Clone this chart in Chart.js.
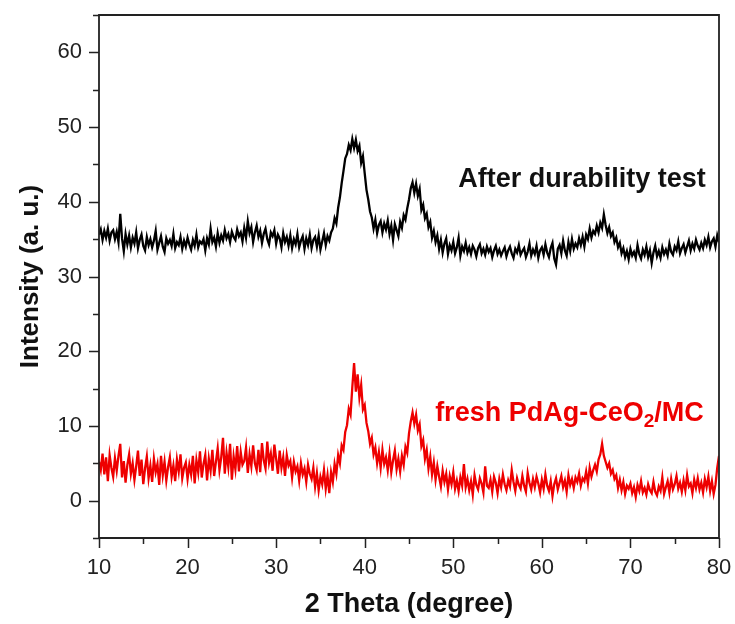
<!DOCTYPE html>
<html>
<head>
<meta charset="utf-8">
<script src="https://cdn.jsdelivr.net/npm/chart.js@4.4.1/dist/chart.umd.min.js"></script>
<style>
  html, body { margin: 0; padding: 0; background: #fff; }
  #wrap { width: 735px; height: 624px; }
</style>
</head>
<body>
<div id="wrap"><canvas id="xrd" width="735" height="624"></canvas></div>
<script>
// scan grid: 10 to 80 degree, one reading every 0.2 degree
const angleStart = 10;
const angleStep = 0.2;

// after durability test (black)
const afterTest = [
  35.6, 36.3, 34.9, 36.1, 35.2, 36.4, 34.8, 35.9, 36.2, 35.0,
  36.0, 34.6, 38.4, 35.1, 33.4, 35.7, 34.3, 35.5, 33.9, 35.2,
  34.4, 35.9, 33.8, 34.9, 35.6, 34.1, 33.5, 35.3, 34.2, 35.0,
  33.9, 34.8, 36.1, 33.6, 34.5, 35.4, 34.0, 33.3, 35.1, 34.4,
  34.9, 34.1, 35.7, 33.8, 34.6, 34.2, 35.3, 33.7, 34.8, 34.0,
  35.2, 34.3, 33.6, 34.9, 34.1, 35.6, 33.9, 34.7, 34.4, 35.0,
  33.5, 35.1, 34.3, 36.4, 34.6, 35.2, 34.0, 35.8, 34.5, 35.5,
  34.8, 36.2, 35.1, 35.7, 34.6, 36.0, 35.3, 34.9, 36.3, 35.4,
  35.9, 34.7, 36.5, 35.2, 37.4, 35.8, 36.6, 34.6, 35.9, 36.8,
  35.3, 36.1, 34.5, 35.7, 36.4, 35.0, 34.3, 35.9, 35.4, 36.2,
  34.4, 35.6, 35.1, 33.9, 35.8, 34.6, 35.3, 34.1, 35.5, 33.8,
  35.0, 34.3, 35.7, 33.9, 34.8, 35.4, 33.7, 35.1, 34.2, 35.6,
  33.8, 34.9, 35.3, 34.0, 35.5, 33.6, 34.7, 35.8, 34.2, 35.4,
  34.8, 35.9, 36.4, 37.8, 37.1, 39.2, 40.6, 42.5, 44.1, 45.8,
  46.4, 47.6, 46.9, 48.4, 47.2, 48.3, 46.8, 47.5, 45.2, 46.1,
  43.8, 41.6, 40.3, 38.7, 37.9, 36.4, 37.6, 35.8, 36.9, 37.4,
  35.9, 37.1, 36.3, 37.5, 35.7, 36.8, 34.9, 37.0, 36.2, 35.4,
  37.3, 36.5, 38.2, 37.6, 39.1, 40.3, 41.8, 42.6, 41.2, 42.4,
  40.8, 41.7, 38.9, 39.6, 37.8, 38.4, 36.6, 37.3, 35.2, 36.1,
  34.6, 35.5, 33.7, 34.9, 33.2, 34.4, 35.1, 33.0, 34.2, 33.5,
  34.6, 33.1, 33.9, 35.2, 32.8, 34.0, 33.4, 34.5, 33.2, 33.9,
  33.0, 34.1, 33.6, 32.7, 33.8, 34.3, 33.1, 33.7, 32.9, 34.0,
  33.3, 33.8, 32.6, 33.5, 34.1, 33.0, 33.6, 32.8, 33.4, 33.9,
  32.7, 33.5, 34.0, 33.1, 32.5, 33.7, 33.2, 34.2, 32.9, 33.4,
  33.8, 32.6, 33.3, 34.4, 32.8, 33.6, 33.0, 34.1, 32.5, 33.5,
  33.9, 32.9, 34.3, 33.2, 32.6, 33.8, 34.5, 32.4, 31.6, 33.7,
  34.2, 33.1, 34.8, 33.5, 32.8, 34.6, 33.4, 35.0, 33.7, 34.4,
  33.9, 35.1, 34.2, 35.3, 34.0, 35.6, 35.0, 36.4, 35.2, 36.1,
  35.7, 36.8, 35.9, 37.2, 36.5, 38.3, 36.9, 35.8, 36.6, 35.4,
  35.9, 34.6, 35.2, 33.9, 34.5, 33.1, 33.8, 32.6, 33.4, 32.3,
  33.7, 32.8, 33.3, 32.5, 34.2, 33.0, 32.4, 33.6, 32.9, 34.0,
  32.6, 33.5, 31.8, 33.2, 34.1, 32.7, 33.4, 32.5, 33.9, 33.0,
  33.6, 32.8, 34.4, 33.3, 32.9, 34.0, 33.5, 34.7, 33.1, 33.8,
  34.3, 33.2, 34.0, 34.8, 33.5, 34.4, 33.7, 34.9, 34.1, 33.6,
  34.5, 33.8, 34.9, 34.2, 35.3, 33.9, 34.7, 35.1, 34.0, 35.5,
  34.6
];

// fresh PdAg-CeO2/MC (red)
const freshSample = [
  5.2, 4.1, 6.3, 3.5, 5.8, 2.6, 6.1, 4.4, 3.2, 5.7,
  4.0, 6.0, 7.6, 3.1, 5.3, 2.4, 4.8, 6.2, 3.6, 5.0,
  2.8, 4.6, 6.7, 3.3, 5.5, 2.2, 4.3, 5.9, 3.0, 4.7,
  2.5, 5.6, 3.8, 4.9, 2.1, 6.0, 3.4, 5.2, 2.7, 4.5,
  5.8, 3.2, 4.7, 2.6, 5.5, 3.9, 6.2, 3.0, 4.4, 5.1,
  2.9, 4.8, 3.5, 6.0, 2.3, 5.4, 3.8, 6.6, 3.1, 4.9,
  6.1, 2.7, 5.6, 4.0, 6.8, 3.3, 5.2, 7.0, 4.1, 5.8,
  8.4, 3.6, 6.4, 4.5, 7.6, 2.8, 5.9, 4.2, 7.3, 3.9,
  6.5, 4.8, 5.3, 7.1, 3.7, 6.2, 4.6, 7.4, 5.0, 4.1,
  6.8, 3.8, 7.7, 5.4, 4.3, 7.9, 5.1, 6.3, 4.0, 7.5,
  5.6, 3.6, 6.7, 4.4, 5.8, 3.3, 6.1, 4.7, 5.3, 3.1,
  5.2, 3.9, 4.6, 2.7, 5.0, 3.5, 4.3, 2.5, 4.8, 3.6,
  2.9, 4.4, 1.9, 3.7, 1.4, 3.2, 2.2, 4.1, 1.6, 3.4,
  1.0, 3.8, 2.5, 4.9, 3.6, 6.1, 5.0, 7.4, 6.8, 9.2,
  10.1, 12.3, 11.5, 15.2, 18.4, 14.6, 16.9, 13.8, 15.5, 12.2,
  12.8, 10.4, 9.3, 7.6, 8.4, 6.2, 7.1, 5.0, 6.5, 4.4,
  6.8, 4.9, 5.8, 4.1, 6.3, 3.8, 5.4, 6.7, 4.2, 5.6,
  3.9, 6.0, 4.8, 7.2, 6.4, 9.0, 10.6, 11.8, 10.3, 11.5,
  9.4, 10.2, 7.3, 8.1, 5.6, 6.8, 4.3, 5.9, 3.5, 5.1,
  2.8, 4.6, 3.2, 1.9, 4.0, 2.5, 3.6, 1.5, 3.3, 2.2,
  3.8, 1.6, 2.7, 1.3, 3.1, 2.0, 4.9, 1.8, 2.9, 1.4,
  2.6, 0.8, 3.4, 2.1, 1.5, 3.0, 2.3, 1.1, 4.6, 2.0,
  1.7, 2.8, 1.2, 3.2, 2.4, 1.0, 2.9, 1.8, 3.5, 2.2,
  1.4, 2.7, 1.9, 4.1, 2.5, 1.3, 3.0, 2.1, 1.6, 3.3,
  2.0, 1.2, 3.7, 2.4, 1.5, 2.9, 1.8, 3.2, 2.3, 1.1,
  2.8, 1.6, 3.5, 2.0, 1.3, 2.6, 0.6, 2.2, 3.0, 1.5,
  2.4, 3.3, 1.8, 2.7, 1.2, 3.4, 2.1, 2.9, 1.7, 3.1,
  2.5, 3.6, 2.0, 3.0, 2.6, 3.9, 2.3, 4.4, 3.2, 4.1,
  4.8, 3.9, 5.5, 6.2, 7.6, 6.0, 5.2, 4.4, 5.0, 3.6,
  4.1, 2.9, 3.4, 1.7, 2.8, 1.4, 2.5, 0.9, 2.0, 1.6,
  2.3, 1.0, 1.8, 0.5, 2.1, 1.3, 2.6, 1.1, 1.7, 0.8,
  2.2, 1.4, 1.0, 2.5, 1.2, 0.7, 1.9, 1.3, 3.1, 0.9,
  1.8, 2.6, 1.1, 2.9, 1.5, 2.2, 3.3, 1.6, 2.4, 1.2,
  2.7, 1.4, 3.4, 1.9, 2.3, 1.0, 2.8, 1.7, 3.0, 1.5,
  2.4, 1.1, 2.9, 1.8, 3.2, 1.3, 2.6, 0.9, 2.1, 4.4,
  6.0
];

const xTicks = [10, 20, 30, 40, 50, 60, 70, 80];
const yTicks = [0, 10, 20, 30, 40, 50, 60];
const seriesNames = ['After durability test', 'fresh PdAg-CeO2/MC'];

//turns a list of readings into points on the 2 theta grid
function toPoints(values) {
    return values.map((v, i) => ({x: angleStart + i * angleStep, y: v}));
}

const axisFont = '"Liberation Sans", Arial, sans-serif';

//draws the box, the outward ticks and the two series labels
const framePlugin = {
    id: 'frame',
    afterDatasetsDraw(chart) {
        const ctx = chart.ctx;
        const a = chart.chartArea;
        const xs = chart.scales.x;
        const ys = chart.scales.y;
        ctx.save();
        ctx.strokeStyle = '#222';
        ctx.lineWidth = 1.8;
        ctx.beginPath();
        ctx.rect(a.left, a.top, a.right - a.left, a.bottom - a.top);
        ctx.stroke();
        ctx.lineWidth = 1.5;
        ctx.beginPath();
        for (let v = 10; v <= 80; v += 5) { //bottom ticks, long on the tens
            let px = Math.round(xs.getPixelForValue(v)) + 0.5;
            let len = (v % 10 === 0) ? 10 : 6;
            ctx.moveTo(px, a.bottom);
            ctx.lineTo(px, a.bottom + len);
        }
        for (let v = -5; v <= 65; v += 5) { //left ticks
            let py = Math.round(ys.getPixelForValue(v)) + 0.5;
            let len = (v % 10 === 0) ? 10 : 6;
            ctx.moveTo(a.left, py);
            ctx.lineTo(a.left - len, py);
        }
        ctx.stroke();

        //series labels, anchored to the data scales
        ctx.textBaseline = 'alphabetic';
        ctx.textAlign = 'left';
        ctx.font = 'bold 27px ' + axisFont;
        ctx.fillStyle = '#111';
        ctx.fillText(seriesNames[0], xs.getPixelForValue(50.55), ys.getPixelForValue(42.0));

        ctx.fillStyle = '#ee0000';
        let lx = xs.getPixelForValue(47.95);
        let ly = ys.getPixelForValue(10.6);
        let part1 = 'fresh PdAg-CeO';
        ctx.fillText(part1, lx, ly);
        lx += ctx.measureText(part1).width;
        ctx.font = 'bold 19px ' + axisFont;
        ctx.fillText('2', lx, ly + 6);
        lx += ctx.measureText('2').width;
        ctx.font = 'bold 27px ' + axisFont;
        ctx.fillText('/MC', lx, ly);
        ctx.restore();
    }
};

new Chart(document.getElementById('xrd').getContext('2d'), {
    type: 'line',
    data: {
        datasets: [{
            label: seriesNames[0],
            data: toPoints(afterTest),
            borderColor: '#000',
            borderWidth: 2.3,
            pointRadius: 0,
            tension: 0
        }, {
            label: seriesNames[1],
            data: toPoints(freshSample),
            borderColor: '#ee0000',
            borderWidth: 2.3,
            pointRadius: 0,
            tension: 0
        }]
    },
    options: {
        responsive: false,
        animation: false,
        layout: {
            padding: {left: 0, right: 16, top: 15, bottom: 0}
        },
        plugins: {
            legend: {display: false},
            tooltip: {enabled: false}
        },
        scales: {
            x: {
                type: 'linear',
                min: 10,
                max: 80,
                afterBuildTicks: s => { s.ticks = xTicks.map(v => ({value: v})); },
                afterFit: s => { s.height = 86; s.paddingLeft = 0; s.paddingRight = 0; },
                grid: {display: false},
                border: {display: false},
                ticks: {
                    padding: 9,
                    color: '#222',
                    font: {family: axisFont, size: 22},
                    maxRotation: 0
                },
                title: {
                    display: true,
                    text: '2 Theta (degree)',
                    color: '#111',
                    font: {family: axisFont, size: 27, weight: 'bold'},
                    padding: {bottom: 3}
                }
            },
            y: {
                min: -5,
                max: 65,
                afterBuildTicks: s => { s.ticks = yTicks.map(v => ({value: v})); },
                afterFit: s => { s.width = 99; s.paddingTop = 0; s.paddingBottom = 0; },
                grid: {display: false},
                border: {display: false},
                ticks: {
                    padding: 9,
                    color: '#222',
                    font: {family: axisFont, size: 22}
                },
                title: {
                    display: true,
                    text: 'Intensity (a. u.)',
                    color: '#111',
                    font: {family: axisFont, size: 26, weight: 'bold'},
                    padding: {top: 15}
                }
            }
        }
    },
    plugins: [framePlugin]
});
</script>
</body>
</html>
